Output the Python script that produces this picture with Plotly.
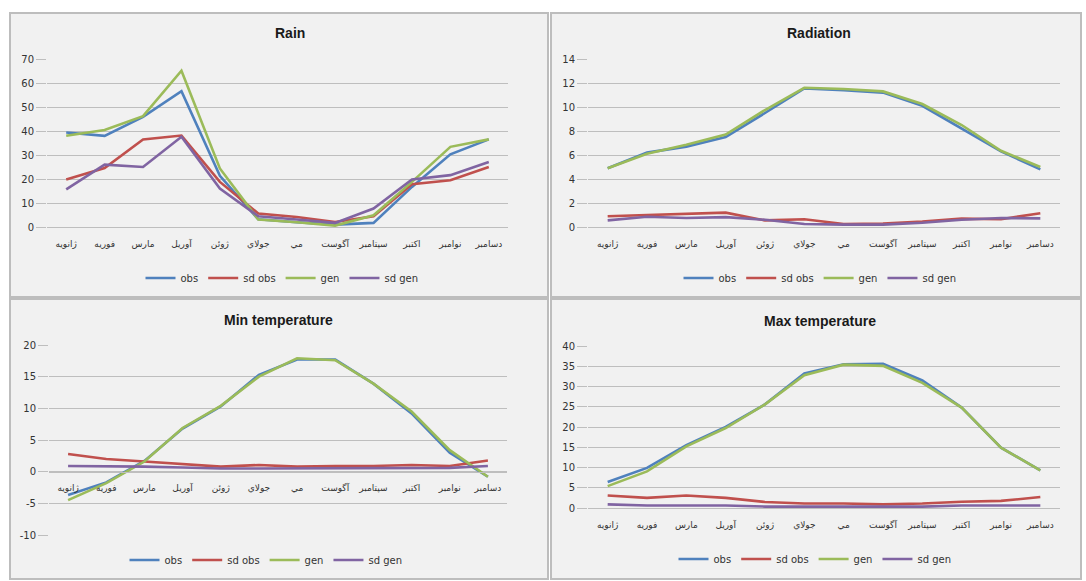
import plotly.graph_objects as go

W, H = 1086, 581

months = ["ژانویه", "فوریه", "مارس", "آوریل", "ژوئن", "جولاي", "مي", "آگوست", "سپتامبر", "اکتبر", "نوامبر", "دسامبر"]
series_names = ["obs", "sd obs", "gen", "sd gen"]
colors = ["#4F81BD", "#C0504D", "#9BBB59", "#8064A2"]

rain_obs = [39.4, 38.0, 45.9, 56.6, 21.3, 3.2, 2.0, 1.0, 1.7, 16.7, 30.3, 36.5]
rain_sd_obs = [19.8, 24.6, 36.5, 38.1, 18.8, 5.6, 4.2, 2.1, 4.5, 17.8, 19.5, 25.0]
rain_gen = [38.0, 40.4, 46.2, 65.1, 24.4, 3.1, 2.0, 0.6, 4.9, 18.8, 33.4, 36.5]
rain_sd_gen = [15.7, 26.0, 25.0, 37.6, 16.0, 4.5, 3.1, 1.7, 7.7, 19.8, 21.6, 27.1]

rad_obs = [4.9, 6.2, 6.7, 7.5, 9.5, 11.55, 11.4, 11.2, 10.1, 8.2, 6.3, 4.8]
rad_sd_obs = [0.9, 1.0, 1.15, 1.2, 0.55, 0.65, 0.25, 0.28, 0.45, 0.7, 0.65, 1.15]
rad_gen = [4.9, 6.1, 6.85, 7.7, 9.75, 11.6, 11.5, 11.3, 10.25, 8.5, 6.35, 5.0]
rad_sd_gen = [0.55, 0.85, 0.75, 0.82, 0.6, 0.25, 0.2, 0.2, 0.35, 0.6, 0.75, 0.72]

tmin_obs = [-3.7, -1.7, 1.7, 6.8, 10.3, 15.3, 17.7, 17.7, 13.9, 9.2, 3.0, -0.8]
tmin_sd_obs = [2.8, 2.0, 1.6, 1.15, 0.8, 1.05, 0.8, 0.9, 0.9, 1.05, 0.9, 1.75]
tmin_gen = [-4.5, -1.8, 1.6, 6.9, 10.4, 15.0, 17.9, 17.6, 13.9, 9.5, 3.4, -0.8]
tmin_sd_gen = [0.9, 0.9, 0.8, 0.65, 0.5, 0.5, 0.5, 0.5, 0.5, 0.5, 0.6, 0.9]

tmax_obs = [6.4, 9.9, 15.5, 20.0, 25.6, 33.2, 35.5, 35.6, 31.5, 24.8, 14.9, 9.3]
tmax_sd_obs = [3.1, 2.5, 3.1, 2.5, 1.5, 1.1, 1.1, 0.9, 1.1, 1.55, 1.75, 2.7]
tmax_gen = [5.4, 9.05, 15.2, 19.75, 25.6, 32.8, 35.4, 35.1, 30.9, 24.8, 14.9, 9.3]
tmax_sd_gen = [0.9, 0.6, 0.6, 0.6, 0.35, 0.35, 0.35, 0.35, 0.35, 0.6, 0.6, 0.6]

titles = ["Rain", "Radiation", "Min temperature", "Max temperature"]
yranges = [[0, 70], [0, 14], [-10, 20], [0, 40]]
yticks = [
    [0, 10, 20, 30, 40, 50, 60, 70],
    [0, 2, 4, 6, 8, 10, 12, 14],
    [-10, -5, 0, 5, 10, 15, 20],
    [0, 5, 10, 15, 20, 25, 30, 35, 40],
]
panel_data = [
    [rain_obs, rain_sd_obs, rain_gen, rain_sd_gen],
    [rad_obs, rad_sd_obs, rad_gen, rad_sd_gen],
    [tmin_obs, tmin_sd_obs, tmin_gen, tmin_sd_gen],
    [tmax_obs, tmax_sd_obs, tmax_gen, tmax_sd_gen],
]

# layout geometry in pixels
panels_px = [(10, 13, 548, 297), (551, 13, 1081, 297), (10, 299, 548, 579), (551, 299, 1081, 579)]
plots_px = [(47, 59, 508, 227), (588, 59, 1060, 227), (49, 345, 507, 535), (588, 346, 1060, 508)]
title_px = [(290, 33), (819, 33), (278, 320), (820, 321)]
legend_px = [(282, 278), (820, 278), (266, 560), (815, 559)]

def px_x(x):
    return x / W

def px_y(y):
    return 1 - y / H

GRID = "#BEBEBE"
TXT = "#333333"

fig = go.Figure()
layout = dict(
    width=W, height=H,
    margin=dict(l=0, r=0, t=0, b=0, autoexpand=False),
    paper_bgcolor="white", plot_bgcolor="white",
    font=dict(family="Liberation Sans, Arial, sans-serif", color=TXT, size=10),
    shapes=[], annotations=[],
)

for i in range(4):
    k = "" if i == 0 else str(i + 1)
    xa, ya = "x" + k, "y" + k
    lg = "legend" + k
    for j in range(4):
        fig.add_trace(go.Scatter(
            x=months, y=panel_data[i][j], mode="lines", name=series_names[j],
            line=dict(color=colors[j], width=2.6),
            xaxis=xa, yaxis=ya, legend=lg, showlegend=True,
        ))
    x0, y0, x1, y1 = plots_px[i]
    ymin, ymax = yranges[i]
    ydom = [px_y(y1), px_y(y0)]
    zero_frac = ydom[0] + (0 - ymin) / (ymax - ymin) * (ydom[1] - ydom[0])
    layout["xaxis" + k] = dict(
        domain=[px_x(x0), px_x(x1)], anchor="free", position=zero_frac,
        type="category", range=[-0.5, 11.5], automargin=False,
        tickmode="array", tickvals=months, ticktext=months, tickangle=0,
        showgrid=False, showline=True, linecolor=GRID, linewidth=1,
        ticks="", ticklabelstandoff=8,
        tickfont=dict(family="DejaVu Sans", size=9, color=TXT),
    )
    layout["yaxis" + k] = dict(
        domain=ydom, anchor=xa, range=yranges[i], automargin=False,
        tickmode="array", tickvals=yticks[i], ticktext=[str(v) for v in yticks[i]],
        showgrid=True, gridcolor=GRID, gridwidth=1,
        zeroline=True, zerolinecolor=GRID, zerolinewidth=1,
        showline=False, ticks="outside", ticklen=10, tickcolor=GRID, tickwidth=1,
        tickfont=dict(family="DejaVu Sans", size=10, color=TXT),
    )
    layout["shapes"].append(dict(
        type="rect", xref="paper", yref="paper", layer="below",
        x0=px_x(panels_px[i][0]), x1=px_x(panels_px[i][2]),
        y0=px_y(panels_px[i][3]), y1=px_y(panels_px[i][1]),
        fillcolor="#F1F1F1", line=dict(color="#BDBDBD", width=2),
    ))
    tx, ty = title_px[i]
    layout["annotations"].append(dict(
        text="<b>" + titles[i] + "</b>", x=px_x(tx), y=px_y(ty), xref="paper", yref="paper",
        showarrow=False, xanchor="center", yanchor="middle",
        font=dict(family="Liberation Sans, Arial", size=14, color="#1a1a1a"),
    ))
    lx, ly = legend_px[i]
    layout[lg] = dict(
        orientation="h", x=px_x(lx), y=px_y(ly), xanchor="center", yanchor="middle",
        bgcolor="rgba(0,0,0,0)", font=dict(family="DejaVu Sans", size=10, color=TXT),
        itemwidth=30, tracegroupgap=0,
    )

fig.update_layout(**layout)
fig.write_html(
    "out.html",
    config={"displayModeBar": False},
    post_script="document.body.style.margin='0';document.body.style.overflow='hidden';",
)
